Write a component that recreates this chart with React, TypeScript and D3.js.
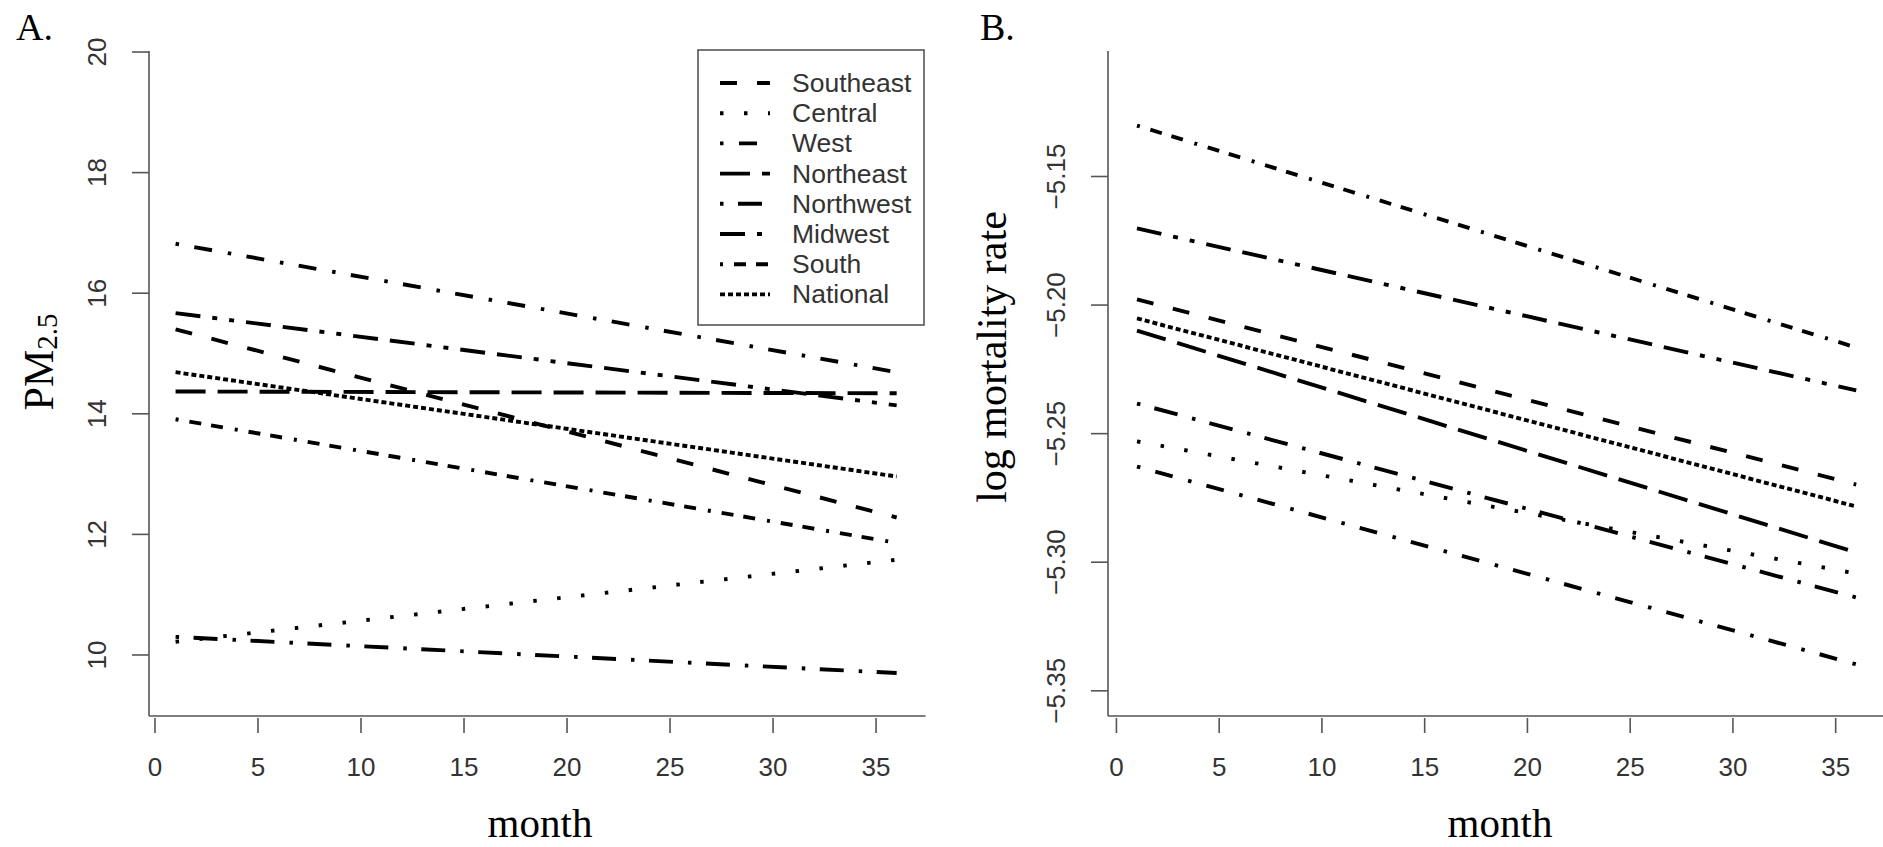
import React from 'react';
import * as d3 from 'd3';

const regions = ['Southeast', 'Central', 'West', 'Northeast', 'Northwest', 'Midwest', 'South', 'National'];
const months = [1, 36];
const pmStart = [15.40, 10.22, 16.82, 14.37, 10.30, 15.67, 13.91, 14.69];
const pmEnd = [12.28, 11.58, 14.69, 14.34, 9.70, 14.14, 11.86, 12.96];
const mortStart = [-5.1978, -5.2530, -5.2628, -5.2099, -5.2383, -5.1702, -5.1302, -5.2052];
const mortEnd = [-5.2698, -5.3044, -5.3397, -5.2962, -5.3137, -5.2332, -5.2165, -5.2783];
const xTicks = [0, 5, 10, 15, 20, 25, 30, 35];
const pmTicks = [10, 12, 14, 16, 18, 20];
const mortTicks = [-5.35, -5.30, -5.25, -5.20, -5.15];
const dashes = ['17 20', '3.5 20.5', '3.5 15.5 18 16', '30 12', '3.5 14.5 24 15', '25 12 5 12 5 12 25 12', '3 11 12 10 12 12', '5 3'];

const W = 1883;
const H = 847;
const TOP = 51;
const BOTTOM = 716;
const SANS = '"Liberation Sans", Arial, Helvetica, sans-serif';
const SERIF = '"Liberation Serif", "Times New Roman", serif';
const AXIS = '#555';
const TEXT = '#333';
const INK = '#000';
const LW = 3.9;

type PanelProps = {
  left: number;
  right: number;
  xDomain: [number, number];
  yDomain: [number, number];
  yTicks: number[];
  fmt: (v: number) => string;
  starts: number[];
  ends: number[];
  yLabel: React.ReactNode;
  yLabelX: number;
  yLabelY: number;
  monthX: number;
  tag: string;
  tagX: number;
};

function Panel(p: PanelProps) {
  const x = d3.scaleLinear().domain(p.xDomain).range([p.left, p.right]);
  const y = d3.scaleLinear().domain(p.yDomain).range([BOTTOM, TOP]);
  const line = d3
    .line<[number, number]>()
    .x((d) => x(d[0]))
    .y((d) => y(d[1]));
  return (
    <g>
      {regions.map((r, i) => (
        <path
          key={r}
          d={line(months.map((m, j) => [m, j === 0 ? p.starts[i] : p.ends[i]]) as [number, number][]) || ''}
          fill="none"
          stroke={INK}
          strokeWidth={LW}
          strokeDasharray={dashes[i]}
          strokeLinecap="butt"
        />
      ))}
      <line x1={p.left} x2={p.left} y1={TOP} y2={BOTTOM} stroke={AXIS} strokeWidth={1.6} />
      <line x1={p.left} x2={p.right} y1={BOTTOM} y2={BOTTOM} stroke={AXIS} strokeWidth={1.6} />
      {xTicks.map((t) => (
        <g key={'x' + t}>
          <line x1={x(t)} x2={x(t)} y1={BOTTOM + 2} y2={BOTTOM + 17} stroke={AXIS} strokeWidth={1.6} />
          <text
            x={x(t)}
            y={767}
            textAnchor="middle"
            dominantBaseline="central"
            fontFamily={SANS}
            fontSize={26}
            fill={TEXT}
          >
            {t}
          </text>
        </g>
      ))}
      {p.yTicks.map((t) => (
        <g key={'y' + t}>
          <line x1={p.left - 17} x2={p.left} y1={y(t)} y2={y(t)} stroke={AXIS} strokeWidth={1.6} />
          <text
            transform={`translate(${p.left - 52},${y(t)}) rotate(-90)`}
            textAnchor="middle"
            dominantBaseline="central"
            fontFamily={SANS}
            fontSize={26}
            fill={TEXT}
          >
            {p.fmt(t)}
          </text>
        </g>
      ))}
      <text
        transform={`translate(${p.yLabelX},${p.yLabelY}) rotate(-90)`}
        textAnchor="middle"
        dominantBaseline="central"
        fontFamily={SERIF}
        fontSize={42}
        fill={INK}
      >
        {p.yLabel}
      </text>
      <text x={p.monthX} y={837} textAnchor="middle" fontFamily={SERIF} fontSize={41} fill={INK}>
        month
      </text>
      <text x={p.tagX} y={40} fontFamily={SERIF} fontSize={38} fill={INK}>
        {p.tag}
      </text>
    </g>
  );
}

function Legend() {
  const x0 = 698;
  const y0 = 50;
  const rowY = (i: number) => 83 + i * 30.2;
  return (
    <g>
      <rect x={x0} y={y0} width={226} height={275} fill="#fff" stroke={AXIS} strokeWidth={1.6} />
      {regions.map((r, i) => (
        <g key={r}>
          <line
            x1={720}
            x2={770}
            y1={rowY(i)}
            y2={rowY(i)}
            stroke={INK}
            strokeWidth={LW}
            strokeDasharray={dashes[i]}
          />
          <text x={792} y={rowY(i)} dominantBaseline="central" fontFamily={SANS} fontSize={26.5} fill={TEXT}>
            {r}
          </text>
        </g>
      ))}
    </g>
  );
}

export default function App() {
  const fmtPm = (v: number) => String(v);
  const fmtMort = (v: number) => d3.format('.2f')(v).replace('-', '\u2212');
  return (
    <svg
      width={W}
      height={H}
      viewBox={`0 0 ${W} ${H}`}
      style={{ position: 'absolute', left: 0, top: 0, display: 'block', background: '#fff' }}
    >
      <rect x={0} y={0} width={W} height={H} fill="#fff" />
      <Panel
        left={149}
        right={925.5}
        xDomain={[-0.29, 37.4]}
        yDomain={[8.988, 20.017]}
        yTicks={pmTicks}
        fmt={fmtPm}
        starts={pmStart}
        ends={pmEnd}
        yLabel={
          <>
            PM
            <tspan fontSize={29} dy={8}>
              2.5
            </tspan>
          </>
        }
        yLabelX={39}
        yLabelY={362}
        monthX={540}
        tag="A."
        tagX={16}
      />
      <Panel
        left={1108}
        right={1885}
        xDomain={[-0.41, 37.4]}
        yDomain={[-5.3598, -5.1012]}
        yTicks={mortTicks}
        fmt={fmtMort}
        starts={mortStart}
        ends={mortEnd}
        yLabel="log mortality rate"
        yLabelX={992}
        yLabelY={357}
        monthX={1500}
        tag="B."
        tagX={980}
      />
      <Legend />
    </svg>
  );
}
